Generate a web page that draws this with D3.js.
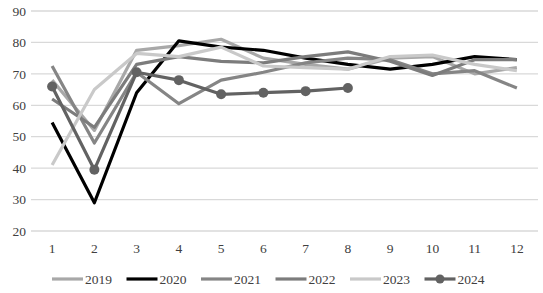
<!DOCTYPE html>
<html><head><meta charset="utf-8">
<script src="https://cdn.jsdelivr.net/npm/d3@7"></script>
<style>body{margin:0;background:#fff}svg{display:block}text{font-family:"Liberation Serif","Times New Roman",serif}</style>
</head><body>
<svg id="c" width="543" height="293"></svg>
<script>
const months = [1,2,3,4,5,6,7,8,9,10,11,12];
const yTicks = [20,30,40,50,60,70,80,90];
const seriesNames = ["2019","2020","2021","2022","2023","2024"];
const s2019 = [68, 52, 77.5, 79, 81, 75, 73, 71.5, 75, 75.5, 70, 72];
const s2020 = [54.5, 29, 64, 80.5, 78.5, 77.5, 75, 73, 71.5, 73, 75.5, 74.5];
const s2021 = [72.5, 48, 70.5, 60.5, 68, 70.5, 73.5, 75, 74.5, 70, 71, 65.5];
const s2022 = [62, 53, 73, 75.5, 74, 73.5, 75.5, 77, 74, 69.5, 74.5, 74.5];
const s2023 = [41, 65, 76.5, 75.5, 78.5, 72.5, 72, 71.5, 75.5, 76, 73, 71];
const s2024 = [66, 39.5, 70.5, 68, 63.5, 64, 64.5, 65.5];
const colors = ["#a8a8a8","#000000","#858585","#7c7c7c","#c9c9c9","#626262"];
const allSeries = [s2019,s2020,s2021,s2022,s2023,s2024];

const svg = d3.select("#c");
const x = d3.scaleBand().domain(months).range([31, 538]);
const y = d3.scaleLinear().domain([20, 90]).range([231, 11]);
const cx = m => x(m) + x.bandwidth()/2;

svg.append("g").selectAll("line").data(yTicks).join("line")
  .attr("x1", 31).attr("x2", 538)
  .attr("y1", d => y(d)).attr("y2", d => y(d))
  .attr("stroke", "#d9d9d9").attr("stroke-width", 1.3);

svg.append("g").selectAll("text").data(yTicks).join("text")
  .attr("x", 26).attr("y", d => y(d)).attr("dy", "0.35em")
  .attr("text-anchor", "end").attr("font-size", 13.5).attr("fill", "#404040")
  .text(d => d);

svg.append("g").selectAll("text").data(months).join("text")
  .attr("x", d => cx(d)).attr("y", 253)
  .attr("text-anchor", "middle").attr("font-size", 13.5).attr("fill", "#404040")
  .text(d => d);

const line = d3.line().x((d,i) => cx(months[i])).y(d => y(d));
allSeries.forEach((s, k) => {
  svg.append("path").datum(s).attr("d", line)
    .attr("fill", "none").attr("stroke", colors[k]).attr("stroke-width", 3.2)
    .attr("stroke-linejoin", "round");
});
svg.append("g").selectAll("circle").data(s2024).join("circle")
  .attr("cx", (d,i) => cx(months[i])).attr("cy", d => y(d)).attr("r", 5)
  .attr("fill", colors[5]);

const lg = svg.append("g");
seriesNames.forEach((n, k) => {
  const x0 = 52 + k * 74.5;
  lg.append("line").attr("x1", x0).attr("x2", x0 + 31).attr("y1", 279).attr("y2", 279)
    .attr("stroke", colors[k]).attr("stroke-width", 3.2);
  if (k === 5) lg.append("circle").attr("cx", x0 + 15.5).attr("cy", 279).attr("r", 4.5).attr("fill", colors[k]);
  lg.append("text").attr("x", x0 + 33).attr("y", 279).attr("dy", "0.35em")
    .attr("font-size", 13.5).attr("fill", "#404040").text(n);
});
</script>
</body></html>
